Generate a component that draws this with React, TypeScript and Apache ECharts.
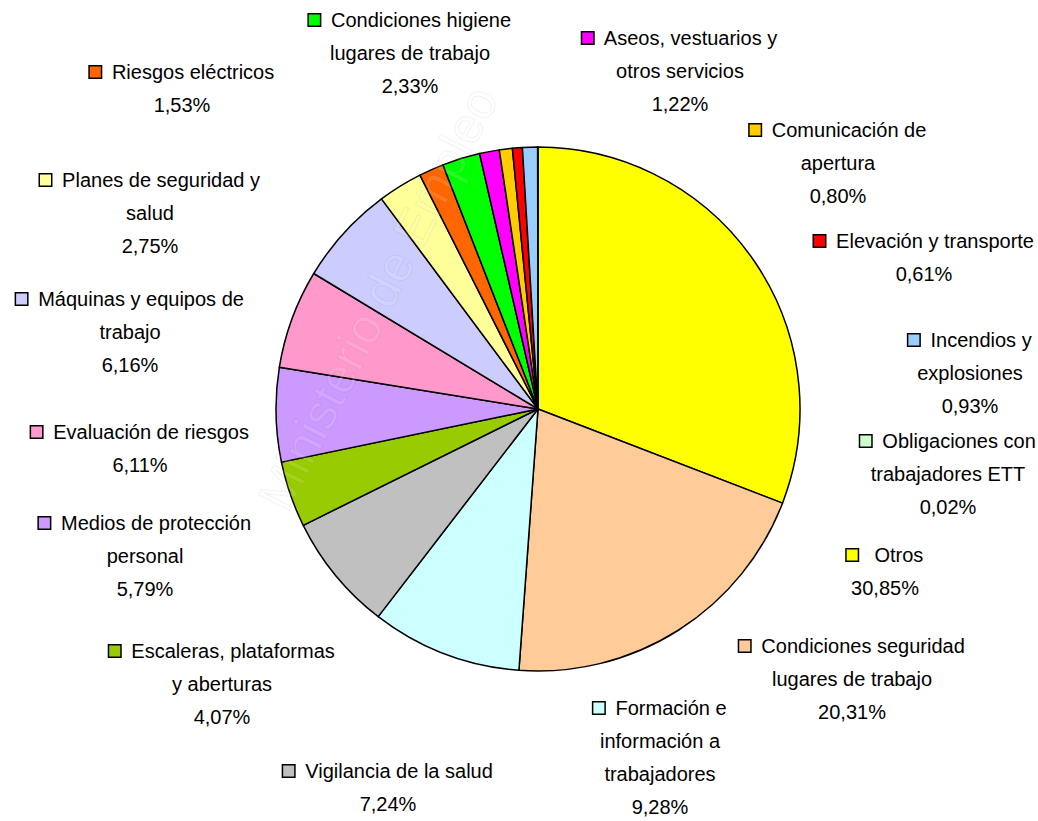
import React, { useEffect, useRef } from "react";
import * as echarts from "echarts";

const categories = [
  "Otros",
  "Condiciones seguridad lugares de trabajo",
  "Formación e información a trabajadores",
  "Vigilancia de la salud",
  "Escaleras, plataformas y aberturas",
  "Medios de protección personal",
  "Evaluación de riesgos",
  "Máquinas y equipos de trabajo",
  "Planes de seguridad y salud",
  "Riesgos eléctricos",
  "Condiciones higiene lugares de trabajo",
  "Aseos, vestuarios y otros servicios",
  "Comunicación de apertura",
  "Elevación y transporte",
  "Incendios y explosiones",
  "Obligaciones con trabajadores ETT",
];

const values = [30.85, 20.31, 9.28, 7.24, 4.07, 5.79, 6.11, 6.16, 2.75, 1.53, 2.33, 1.22, 0.8, 0.61, 0.93, 0.02];

const labelLines = [
  [" Otros"],
  ["Condiciones seguridad", "lugares de trabajo"],
  ["Formación e", "información a", "trabajadores"],
  ["Vigilancia de la salud"],
  ["Escaleras, plataformas", "y aberturas"],
  ["Medios de protección", "personal"],
  ["Evaluación de riesgos"],
  ["Máquinas y equipos de", "trabajo"],
  ["Planes de seguridad y", "salud"],
  ["Riesgos eléctricos"],
  ["Condiciones higiene", "lugares de trabajo"],
  ["Aseos, vestuarios y", "otros servicios"],
  ["Comunicación de", "apertura"],
  ["Elevación y transporte"],
  ["Incendios y", "explosiones"],
  ["Obligaciones con", "trabajadores ETT"],
];

const colors = [
  "#FFFF00", "#FFCC99", "#CCFFFF", "#C0C0C0", "#99CC00", "#CC99FF", "#FF99CC", "#CCCCFF",
  "#FFFF99", "#FF6600", "#00FF00", "#FF00FF", "#FFCC00", "#FF0000", "#99CCFF", "#CCFFCC",
];

// label block: center x, center y of first line
const labelPos = [
  [885, 555], [852, 646], [660, 708], [388, 771], [222, 651], [145, 523], [140, 432], [130, 299],
  [150, 180], [182, 72], [410, 20], [680, 38], [838, 130], [924, 241], [970, 340], [948, 441],
];

const watermark = "Ministerio de Empleo";

const FONT = "'Liberation Sans Narrow', 'Arial Narrow', 'Liberation Sans', Arial, sans-serif";
const LH = 33;

export default function App() {
  const ref = useRef<HTMLDivElement>(null);
  useEffect(() => {
    if (!ref.current) return;
    const chart = echarts.init(ref.current, null, { renderer: "svg" });
    const rich: any = {};
    colors.forEach((c, i) => {
      rich["m" + i] = {
        width: 11,
        height: 11,
        backgroundColor: c,
        borderColor: "#000",
        borderWidth: 1.5,
      };
    });
    const fmt = (v: number) => v.toFixed(2).replace(".", ",") + "%";
    const data = categories.map((n, i) => ({
      name: n,
      value: values[i],
      itemStyle: { color: colors[i] },
    }));
    chart.setOption({
      animation: false,
      backgroundColor: "#fff",
      graphic: [
        {
          type: "text",
          x: 250,
          y: 495,
          rotation: (63 * Math.PI) / 180,
          z: 10,
          silent: true,
          style: {
            text: watermark,
            fill: "rgba(255,255,255,0.12)",
            stroke: "rgba(0,0,0,0.06)",
            lineWidth: 1,
            fontSize: 50,
            fontFamily: "'Liberation Sans', Arial, sans-serif",
          },
        },
      ],
      series: [
        {
          type: "pie",
          center: [538, 409],
          radius: 262,
          startAngle: 90,
          clockwise: true,
          avoidLabelOverlap: false,
          z: 2,
          itemStyle: { borderColor: "#000", borderWidth: 1.5 },
          labelLine: { show: false },
          emphasis: { disabled: true },
          label: {
            show: true,
            color: "#000",
            fontFamily: FONT,
            fontSize: 20,
            lineHeight: LH,
            align: "center",
            rich,
            formatter: (p: any) => {
              const i = p.dataIndex;
              const ls = labelLines[i];
              const first = `{m${i}|}  ${ls[0]}`;
              return [first, ...ls.slice(1), fmt(values[i])].join("\n");
            },
          },
          labelLayout: (p: any) => {
            const [x, y] = labelPos[p.dataIndex];
            return { x, y: y - LH / 2, align: "center", verticalAlign: "top", hideOverlap: false };
          },
          data,
        },
      ],
    });
    return () => chart.dispose();
  }, []);
  return (
    <div
      ref={ref}
      style={{ position: "absolute", left: 0, top: 0, width: 1038, height: 821 }}
    />
  );
}
